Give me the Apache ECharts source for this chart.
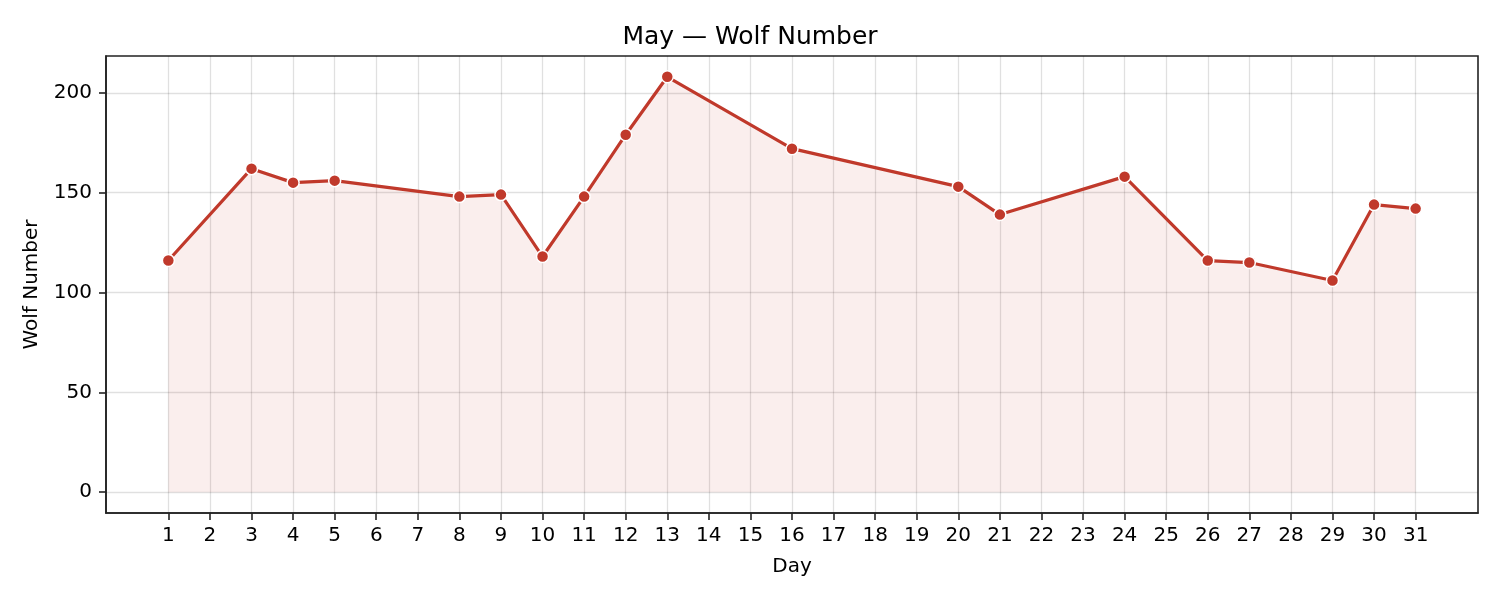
<!DOCTYPE html>
<html>
<head>
<meta charset="utf-8">
<script src="https://cdn.jsdelivr.net/npm/echarts@6/dist/echarts.min.js"></script>
<style>
html,body{margin:0;padding:0;background:#fff;}
#chart{width:1500px;height:600px;}
</style>
</head>
<body>
<div id="chart"></div>
<script>
const days = [1, 3, 4, 5, 8, 9, 10, 11, 12, 13, 16, 20, 21, 24, 26, 27, 29, 30, 31];
const wolfNumber = [116, 162, 155, 156, 148, 149, 118, 148, 179, 208, 172, 153, 139, 158, 116, 115, 106, 144, 142];
const xTickValues = [1,2,3,4,5,6,7,8,9,10,11,12,13,14,15,16,17,18,19,20,21,22,23,24,25,26,27,28,29,30,31];
const yTickValues = [0, 50, 100, 150, 200];

const seriesData = days.map((d, i) => [d, wolfNumber[i]]);
const font = 'DejaVu Sans';
const lineColor = '#c0392b';

const chart = echarts.init(document.getElementById('chart'), null, {renderer: 'canvas'});
chart.setOption({
  animation: false,
  backgroundColor: '#ffffff',
  title: {
    text: 'May — Wolf Number',
    left: 'center',
    top: 20,
    textStyle: {fontFamily: font, fontSize: 25, fontWeight: 'normal', color: '#000'}
  },
  grid: {
    left: 106, right: 22, top: 56, bottom: 87,
    show: true, borderColor: '#222', borderWidth: 1.6, backgroundColor: '#fff'
  },
  xAxis: {
    type: 'value',
    min: -0.5, max: 32.5,
    name: 'Day',
    nameLocation: 'middle',
    nameGap: 44,
    nameTextStyle: {fontFamily: font, fontSize: 20, color: '#000'},
    axisLine: {show: true, onZero: false, lineStyle: {color: '#222', width: 1.6}},
    axisTick: {show: true, customValues: xTickValues, length: 7, lineStyle: {color: '#222', width: 1.6}},
    axisLabel: {customValues: xTickValues, fontFamily: font, fontSize: 20, color: '#000', margin: 13},
    splitLine: {show: true, lineStyle: {color: 'rgba(0,0,0,0.12)', width: 1.3}}
  },
  yAxis: {
    type: 'value',
    min: -10.4, max: 218.4,
    name: 'Wolf Number',
    nameLocation: 'middle',
    nameGap: 64,
    nameTextStyle: {fontFamily: font, fontSize: 20, color: '#000'},
    axisLine: {show: true, onZero: false, lineStyle: {color: '#222', width: 1.6}},
    axisTick: {show: true, customValues: yTickValues, length: 7, lineStyle: {color: '#222', width: 1.6}},
    axisLabel: {customValues: yTickValues, fontFamily: font, fontSize: 20, color: '#000', margin: 14},
    splitLine: {show: true, lineStyle: {color: 'rgba(0,0,0,0.12)', width: 1.3}}
  },
  series: [{
    type: 'line',
    data: seriesData,
    symbol: 'circle',
    symbolSize: 12,
    lineStyle: {color: lineColor, width: 3.2},
    itemStyle: {color: lineColor, borderColor: '#fff', borderWidth: 1.5},
    areaStyle: {color: 'rgba(192,57,43,0.12)', origin: 0},
    z: 3
  }]
});
</script>
</body>
</html>
